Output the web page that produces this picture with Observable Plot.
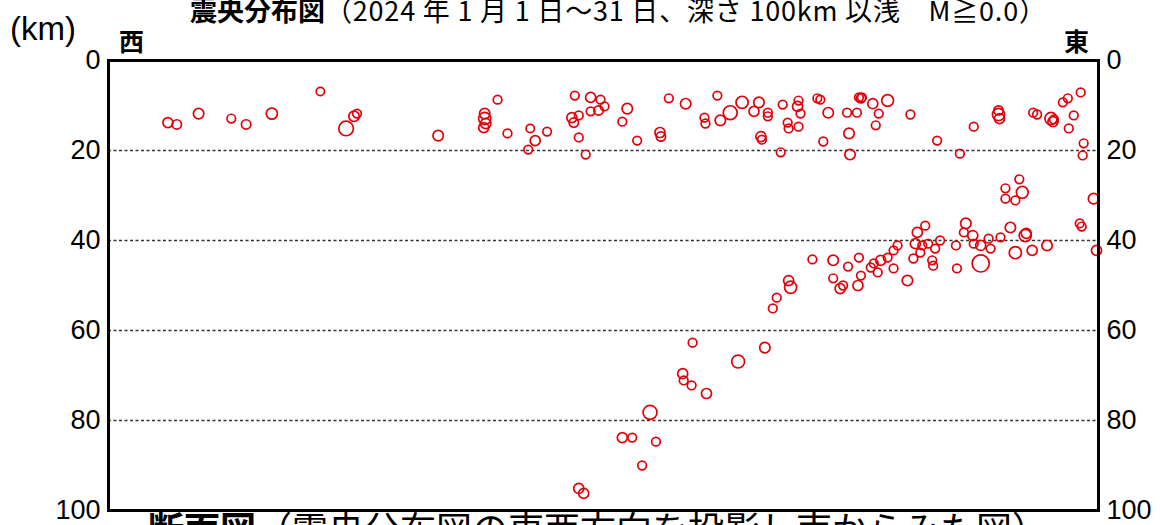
<!DOCTYPE html>
<html><head><meta charset="utf-8">
<script src="https://cdn.jsdelivr.net/npm/d3@7"></script>
<script src="https://cdn.jsdelivr.net/npm/@observablehq/plot@0.6"></script>
<style>
html,body{margin:0;padding:0;background:#fff;}
#wrap{position:relative;width:1160px;height:525px;overflow:hidden;}
.t{position:absolute;white-space:nowrap;font-family:"Noto Sans CJK JP",sans-serif;color:#000;line-height:1;}
</style></head>
<body><div id="wrap"></div>
<script>
const titleBold = "震央分布図";
const titleRest = "（2024 年 1 月 1 日～31 日、深さ 100km 以浅　M≧0.0）";
const unitLabel = "(km)";
const westLabel = "西";
const eastLabel = "東";
const captionBold = "断面図";
const captionRest = "（震央分布図の東西方向を投影し南からみた図）";
const depthTicks = [0, 20, 40, 60, 80, 100];
const gridDepths = [20, 40, 60, 80];

const eastWest = [6.0,6.9,9.1,12.4,13.9,16.5,21.4,24.0,24.8,25.1,
33.3,38.0,38.0,38.1,37.9,39.3,40.3,42.6,43.1,42.4,
44.3,47.1,46.8,47.0,47.5,48.7,49.7,50.1,48.7,49.5,
47.5,48.2,51.9,52.4,53.4,55.7,55.8,56.6,58.3,61.5,
60.2,60.3,61.8,62.8,64.0,65.7,65.2,66.6,66.6,65.9,
66.0,68.1,67.9,68.6,68.7,69.7,69.6,69.9,69.7,71.6,
71.9,72.7,72.2,74.6,75.6,74.8,74.9,75.8,76.1,76.0,
77.2,77.8,77.5,78.7,81.0,83.7,86.0,87.4,89.9,89.9,
90.0,93.4,93.8,95.2,95.4,95.5,97.0,97.5,96.4,96.9,
98.2,98.5,98.4,
98.1,98.3,99.5,99.8,92.0,92.3,90.6,90.6,91.6,94.8,
92.6,92.7,93.3,91.6,91.1,90.1,88.9,89.1,88.1,88.1,
87.3,87.4,86.6,86.4,85.6,85.7,84.0,83.5,83.2,83.3,
82.5,81.7,81.5,82.2,82.8,82.0,81.3,80.7,79.7,79.3,
78.7,78.0,77.3,77.0,77.7,79.3,75.8,76.0,74.7,75.7,
73.9,74.2,73.2,73.2,71.1,68.7,68.9,67.5,67.1,59.0,
66.3,63.6,58.0,58.1,58.9,60.4,54.7,51.9,52.9,55.3,
53.9,47.5,48.0];

const depth = [13.8,14.2,11.8,12.9,14.2,11.8,6.9,15.1,12.4,11.8,
16.7,11.8,12.9,14.0,14.9,8.7,16.2,15.1,17.8,19.8,
15.8,7.8,12.7,13.8,12.2,8.2,8.7,10.2,11.3,11.1,
17.1,20.9,13.6,10.7,17.8,16.0,16.9,8.4,9.6,7.8,
12.7,14.0,13.3,11.6,9.3,9.3,11.3,11.6,12.4,16.9,
17.6,9.8,20.4,13.8,15.1,8.9,10.2,11.8,14.7,8.4,
8.7,11.6,18.0,11.6,11.6,16.2,20.9,8.2,8.2,8.4,
9.6,11.8,14.4,8.9,12.0,17.8,20.7,14.7,11.1,12.0,
12.9,11.6,12.0,12.9,13.6,13.1,15.1,12.2,9.3,8.4,
7.1,18.4,21.1,
36.2,36.9,30.7,42.2,26.4,29.3,28.4,30.7,31.1,41.1,
38.9,38.4,42.2,42.7,37.1,39.3,39.6,41.8,45.1,41.1,
38.9,40.7,36.2,38.2,41.1,46.2,40.0,41.8,44.4,45.6,
36.7,38.2,40.7,41.1,40.7,42.7,44.0,48.9,41.1,42.2,
43.8,44.4,45.1,46.0,47.1,46.2,43.8,47.8,45.8,50.0,
50.7,50.0,44.4,48.4,44.2,48.9,50.4,52.7,55.1,62.7,
63.8,66.9,69.6,71.1,72.2,74.0,78.2,83.8,83.8,84.7,
90.0,95.1,96.2];

const magnitude = [1.2,1.0,1.3,0.8,1.0,1.5,0.7,2.5,1.3,0.8,
1.3,1.3,1.8,1.3,1.2,0.8,0.8,0.7,1.2,0.8,
0.8,0.8,1.2,1.0,0.8,1.2,0.8,0.8,0.8,1.0,
0.8,0.8,0.8,1.3,0.8,1.2,1.0,0.8,1.3,0.8,
0.8,0.8,1.3,2.3,1.8,1.3,1.2,0.8,0.8,1.2,
0.8,0.8,0.8,0.8,0.8,0.8,1.2,0.8,0.8,0.8,
0.8,1.3,0.8,0.8,0.8,1.3,1.3,0.8,0.8,1.0,
1.2,0.8,0.8,1.7,0.8,0.8,0.8,0.8,1.0,1.8,
1.2,0.8,0.8,1.8,1.2,0.8,0.8,0.8,0.8,0.8,
0.8,0.8,0.8,
0.8,0.8,1.3,1.2,0.8,1.7,0.8,0.8,0.8,1.3,
1.8,1.2,1.2,1.8,1.3,0.8,0.8,0.8,3.2,1.2,
1.2,0.8,1.3,0.8,0.8,0.8,0.8,0.8,0.8,0.8,
0.8,1.2,1.2,0.8,0.8,0.8,0.8,1.3,0.8,0.8,
0.8,1.2,0.8,0.8,0.8,0.8,0.8,0.8,0.8,1.2,
1.2,0.8,1.3,0.8,0.8,1.2,1.8,0.8,0.8,0.8,
1.3,2.0,1.2,0.8,0.8,1.2,2.3,1.2,0.8,0.8,
0.8,1.2,1.2];

const quakes = eastWest.map((x, i) => ({x, depth: depth[i], mag: magnitude[i]}));

const chart = Plot.plot({
  width: 1160,
  height: 525,
  marginTop: 60,
  marginBottom: 15,
  marginLeft: 108,
  marginRight: 62,
  style: {fontFamily: "'Liberation Sans', Arial, sans-serif", fontSize: "27px", color: "#000", background: "#fff"},
  x: {domain: [0, 100], axis: null},
  y: {domain: [0, 100], reverse: true, axis: null},
  r: {type: "linear", domain: [0, 3], range: [2.9, 8.2]},
  marks: [
    Plot.ruleY(gridDepths, {stroke: "#333", strokeWidth: 1.6, strokeDasharray: "3,2.5"}),
    Plot.dot(quakes, {x: "x", y: "depth", r: "mag", stroke: "#e2000a", strokeWidth: 1.7, fill: "none"}),
    Plot.frame({stroke: "#000", strokeWidth: 3}),
    Plot.axisY(depthTicks, {anchor: "left", label: null, tickSize: 0, tickPadding: 8, tickFormat: d => String(d), fontSize: 27}),
    Plot.axisY(depthTicks, {anchor: "right", label: null, tickSize: 0, tickPadding: 8, tickFormat: d => String(d), fontSize: 27})
  ]
});

const wrap = document.getElementById("wrap");
wrap.appendChild(chart);
chart.style.position = "absolute";
chart.style.left = "0px";
chart.style.top = "0px";

function addText(html, css) {
  const d = document.createElement("div");
  d.className = "t";
  d.innerHTML = html;
  Object.assign(d.style, css);
  wrap.appendChild(d);
  return d;
}
addText(`<b>${titleBold}</b><span style="letter-spacing:0.8px">${titleRest}</span>`, {left: "190px", top: "-4px", fontSize: "27px"});
addText(unitLabel, {left: "10px", top: "12px", fontSize: "33px", fontFamily: "'Liberation Sans', Arial, sans-serif"});
addText(`<b>${westLabel}</b>`, {left: "119px", top: "28px", fontSize: "25px"});
addText(`<b>${eastLabel}</b>`, {left: "1064px", top: "28px", fontSize: "25px"});
addText(`<b>${captionBold}</b>${captionRest}`, {left: "148px", top: "509px", fontSize: "36px"});
</script>
</body></html>
